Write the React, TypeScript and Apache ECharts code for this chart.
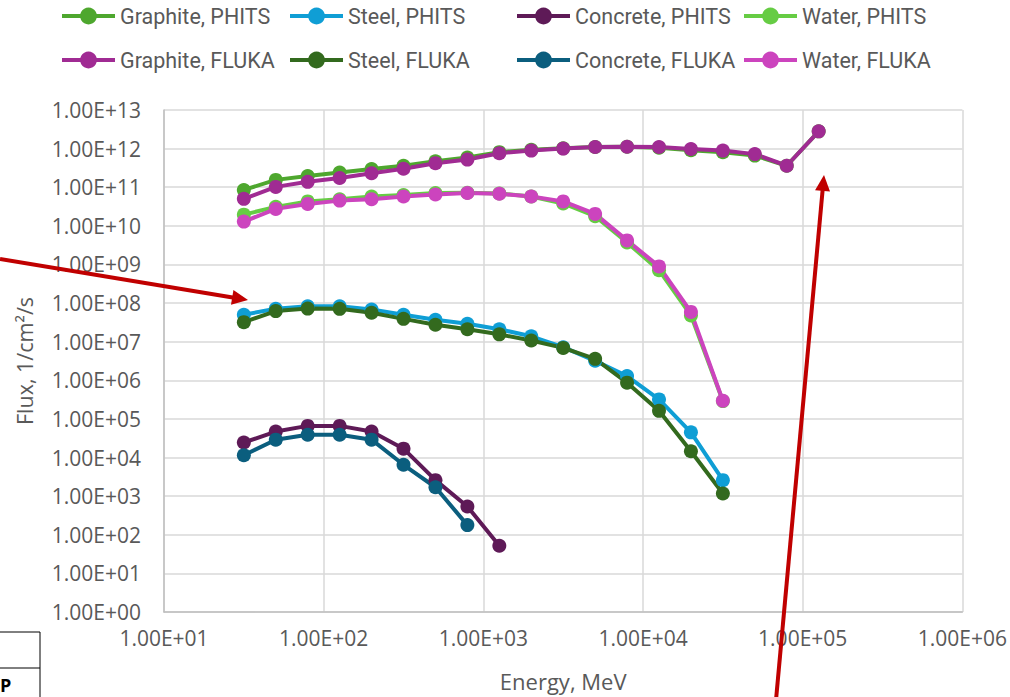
import React, { useEffect, useRef } from "react";
import * as echarts from "echarts";

const energies = [31.62, 50.12, 79.43, 125.9, 199.5, 316.2, 501.2, 794.3, 1259, 1995, 3162, 5012, 7943, 12590, 19950, 31620, 50120, 79430, 125900];

const graphitePhits = [8.5e10, 1.55e11, 1.95e11, 2.4e11, 2.95e11, 3.6e11, 4.7e11, 5.9e11, 8.1e11, 9.3e11, 1.02e12, 1.1e12, 1.12e12, 1.05e12, 9.1e11, 8.1e11, 6.6e11, 3.6e11, 2.8e12];
const steelPhits = [5.0e7, 7.1e7, 8.3e7, 8.3e7, 6.8e7, 5.0e7, 3.7e7, 2.9e7, 2.1e7, 1.38e7, 7.2e6, 3.2e6, 1.29e6, 3.2e5, 4.5e4, 2.6e3];
const concretePhits = [2.45e4, 4.7e4, 6.6e4, 6.6e4, 4.7e4, 1.7e4, 2.6e3, 5.4e2, 52];
const waterPhits = [1.95e10, 3.1e10, 4.3e10, 4.9e10, 5.75e10, 6.3e10, 7.1e10, 7.2e10, 6.9e10, 5.75e10, 3.8e10, 1.78e10, 3.7e9, 7.1e8, 4.8e7, 2.9e5];
const graphiteFluka = [5.0e10, 1.02e11, 1.38e11, 1.74e11, 2.3e11, 3.0e11, 4.2e11, 5.2e11, 7.6e11, 8.9e11, 1.0e12, 1.1e12, 1.12e12, 1.1e12, 9.8e11, 8.9e11, 7.2e11, 3.6e11, 2.8e12];
const steelFluka = [3.2e7, 6.2e7, 7.2e7, 7.1e7, 5.6e7, 3.9e7, 2.75e7, 2.1e7, 1.55e7, 1.07e7, 6.9e6, 3.6e6, 8.7e5, 1.62e5, 1.45e4, 1.17e3];
const concreteFluka = [1.15e4, 2.9e4, 3.9e4, 3.9e4, 2.9e4, 6.5e3, 1.7e3, 178];
const waterFluka = [1.29e10, 2.75e10, 3.7e10, 4.5e10, 4.9e10, 5.75e10, 6.5e10, 7.1e10, 6.8e10, 5.75e10, 4.3e10, 2.04e10, 4.2e9, 8.9e8, 5.9e7, 2.95e5];

const seriesNames = [
  "Graphite, PHITS", "Steel, PHITS", "Concrete, PHITS", "Water, PHITS",
  "Graphite, FLUKA", "Steel, FLUKA", "Concrete, FLUKA", "Water, FLUKA",
];
const seriesValues = [graphitePhits, steelPhits, concretePhits, waterPhits, graphiteFluka, steelFluka, concreteFluka, waterFluka];
const seriesColors = ["#4EA72E", "#0F9ED5", "#5E1A57", "#66CC44", "#A02B93", "#336A1E", "#0B5E7E", "#CC44BE"];

const legendLeft = [60, 288, 515, 742];
const legendTop = [5, 49];

function fmtExp(v: number): string {
  const e = Math.round(Math.log10(v));
  const s = e < 0 ? "-" : "+";
  const a = Math.abs(e);
  return "1.00E" + s + (a < 10 ? "0" : "") + a;
}

function arrow(x1: number, y1: number, tx: number, ty: number, color: string) {
  const dx = tx - x1, dy = ty - y1;
  const len = Math.sqrt(dx * dx + dy * dy);
  const ux = dx / len, uy = dy / len;
  const hl = 16, hw = 7.5;
  const bx = tx - ux * hl, by = ty - uy * hl;
  const px = -uy, py = ux;
  return [
    { type: "line", z: 100, shape: { x1, y1, x2: bx + ux * 2, y2: by + uy * 2 }, style: { stroke: color, lineWidth: 4 } },
    { type: "polygon", z: 100, shape: { points: [[tx, ty], [bx + px * hw, by + py * hw], [bx - px * hw, by - py * hw]] }, style: { fill: color } },
  ];
}

export default function App() {
  const ref = useRef<HTMLDivElement>(null);
  useEffect(() => {
    if (!ref.current) return;
    const chart = echarts.init(ref.current, null, { renderer: "svg" });
    const series = seriesNames.map((name, i) => ({
      name,
      type: "line",
      data: seriesValues[i].map((v, j) => [energies[j], v]),
      symbol: "circle",
      symbolSize: 14,
      showSymbol: true,
      lineStyle: { width: 4, color: seriesColors[i] },
      itemStyle: { color: seriesColors[i] },
      emphasis: { disabled: true },
    }));
    const legends = seriesNames.map((name, i) => ({
      data: [name],
      left: legendLeft[i % 4],
      top: legendTop[Math.floor(i / 4)],
      itemWidth: 53,
      itemHeight: 21,
      padding: 0,
      selectedMode: false,
      lineStyle: { width: 4 },
      textStyle: { fontFamily: "Roboto", fontSize: 21.5, color: "#595959" },
    }));
    const axisText = { fontFamily: "Open Sans", fontSize: 21, color: "#595959" };
    chart.setOption({
      animation: false,
      backgroundColor: "#ffffff",
      legend: legends,
      grid: { left: 164, right: 47, top: 110, bottom: 84, containLabel: false },
      xAxis: {
        type: "log",
        logBase: 10,
        min: 10,
        max: 1e6,
        interval: 1,
        name: "Energy, MeV",
        nameLocation: "middle",
        nameGap: 58,
        nameTextStyle: { fontFamily: "Open Sans", fontSize: 22, color: "#595959" },
        axisLine: { lineStyle: { color: "#bfbfbf", width: 1.5 } },
        axisTick: { show: false },
        splitLine: { show: true, lineStyle: { color: "#d9d9d9", width: 1.5 } },
        minorTick: { show: false },
        axisLabel: { ...axisText, margin: 15, formatter: (v: number) => fmtExp(v) },
      },
      yAxis: {
        type: "log",
        logBase: 10,
        min: 1,
        max: 1e13,
        interval: 1,
        name: "Flux, 1/cm²/s",
        nameLocation: "middle",
        nameGap: 129,
        nameTextStyle: { fontFamily: "Open Sans", fontSize: 21.5, color: "#595959" },
        axisLine: { show: true, lineStyle: { color: "#bfbfbf", width: 1.5 } },
        axisTick: { show: false },
        splitLine: { show: true, lineStyle: { color: "#d9d9d9", width: 1.5 } },
        axisLabel: { ...axisText, margin: 23, formatter: (v: number) => fmtExp(v) },
      },
      series,
      graphic: [
        ...arrow(0, 259, 248, 300, "#C00000"),
        ...arrow(776, 700, 824, 175, "#C00000"),
        { type: "rect", z: 100, shape: { x: -2, y: 632, width: 42, height: 70 }, style: { fill: "none", stroke: "#000000", lineWidth: 1 } },
        { type: "line", z: 100, shape: { x1: 0, y1: 668, x2: 40, y2: 668 }, style: { stroke: "#000000", lineWidth: 1 } },
        { type: "text", z: 100, x: 0, y: 676, style: { text: "P", fontFamily: "Open Sans", fontWeight: "bold", fontSize: 18, fill: "#000000" } },
      ],
    });
    return () => chart.dispose();
  }, []);
  return <div ref={ref} style={{ position: "fixed", left: 0, top: 0, width: 1010, height: 697 }} />;
}
